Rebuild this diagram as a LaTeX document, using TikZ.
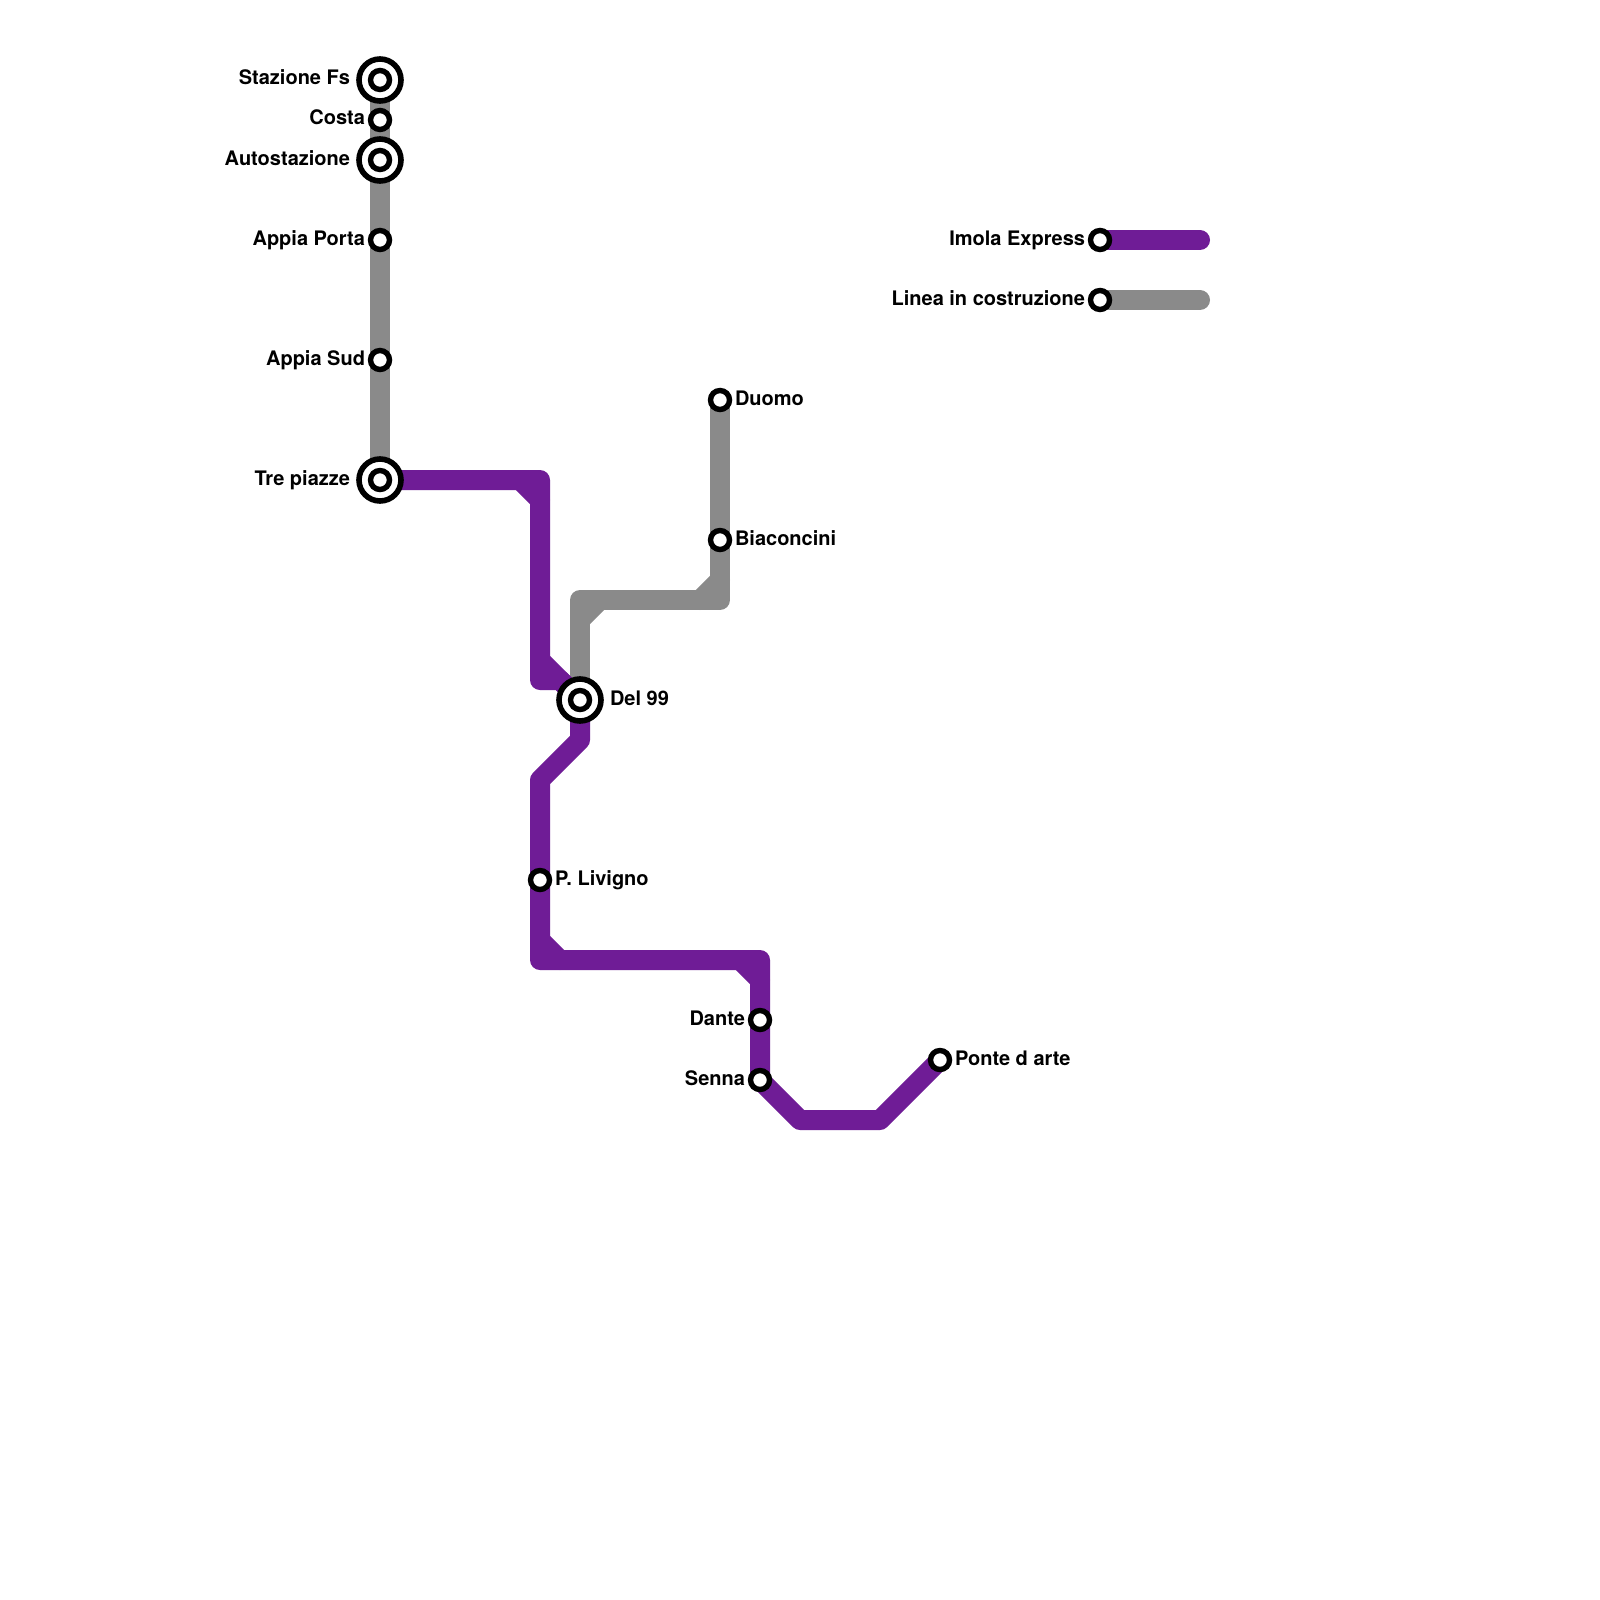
\documentclass[tikz,border=0pt]{standalone}
\usepackage{fontspec}
\setmainfont{TeX Gyre Heros}
\definecolor{linepurple}{HTML}{6F1C96}
\definecolor{linegray}{HTML}{8A8A8A}
\tikzset{
  metro/.style={line width=10pt,line cap=round,line join=round},
  purpleline/.style={metro,draw=linepurple},
  grayline/.style={metro,draw=linegray},
  stop/.style={circle,draw=black,fill=white,line width=2.7pt,minimum size=9.5pt,inner sep=0pt,outer sep=0pt},
  hubouter/.style={circle,draw=black,fill=white,line width=2.8pt,minimum size=21pt,inner sep=0pt,outer sep=0pt},
  hubinner/.style={stop},
  lab/.style={font=\bfseries\fontsize{10pt}{12pt}\selectfont,text=black,inner sep=0pt,outer sep=0pt},
  labl/.style={lab,anchor=base east},
  labr/.style={lab,anchor=base west}
}
\begin{document}
\begin{tikzpicture}[x=0.5pt,y=-0.5pt]
\useasboundingbox (0,0) rectangle (1600,1600);
\fill[white] (0,0) rectangle (1600,1600);
% station positions and bends
\foreach \n/\x/\y in {sfs/380/80,cos/380/120,aut/380/160,apo/380/240,asu/380/360,tre/380/480,
  duo/720/400,bia/720/540,del/580/700,liv/540/880,dan/760/1020,sen/760/1080,pon/940/1060,
  imo/1100/240,cst/1100/300,imoe/1200/240,cste/1200/300,
  pa/540/480,pb/540/680,pc/560/680,pd/580/740,pe/540/780,pf/540/960,pg/760/960,ph/800/1120,pi/880/1120,
  ga/720/600,gb/580/600,
  xa/520/480,xb/540/500,xc/540/660,xd/540/940,xe/560/960,xf/740/960,xg/760/980,
  xh/580/620,xi/600/600,xj/700/600,xk/720/580}
  {\coordinate (\n) at (\x,\y);}
% gray line
\draw[grayline] (sfs) -- (cos) -- (aut) -- (apo) -- (asu) -- (tre);
\draw[grayline] (duo) -- (bia) -- (ga) -- (gb) -- (del);
\draw[grayline] (xh) -- (xi);
\draw[grayline] (xj) -- (xk);
\draw[grayline] (cst) -- (cste);
% purple line
\draw[purpleline] (tre) -- (pa) -- (pb) -- (pc) -- (del) -- (pd) -- (pe) -- (liv) -- (pf) -- (pg) -- (dan) -- (sen) -- (ph) -- (pi) -- (pon);
\draw[purpleline] (xa) -- (xb);
\draw[purpleline] (xc) -- (del);
\draw[purpleline] (xd) -- (xe);
\draw[purpleline] (xf) -- (xg);
\draw[purpleline] (imo) -- (imoe);
% hubs
\foreach \n in {sfs,aut,tre,del}{
  \node[hubouter] (\n o) at (\n) {};
  \node[hubinner] (\n i) at (\n) {};
}
% stops
\foreach \n in {cos,apo,asu,duo,bia,liv,dan,sen,pon,imo,cst}{
  \node[stop] (\n s) at (\n) {};
}
% labels
\node[labl] (lsfs) at (350,85) {Stazione Fs};
\node[labl] (lcos) at (365,125) {Costa};
\node[labl] (laut) at (350,165) {Autostazione};
\node[labl] (lapo) at (365,245) {Appia Porta};
\node[labl] (lasu) at (365,365) {Appia Sud};
\node[labl] (ltre) at (350,485) {Tre piazze};
\node[labr] (lduo) at (735,405) {Duomo};
\node[labr] (lbia) at (735,545) {Biaconcini};
\node[labr] (ldel) at (610,705) {Del 99};
\node[labr] (lliv) at (555,885) {P. Livigno};
\node[labl] (ldan) at (745,1025) {Dante};
\node[labl] (lsen) at (745,1085) {Senna};
\node[labr] (lpon) at (955,1065) {Ponte d arte};
\node[labl] (limo) at (1085,245) {Imola Express};
\node[labl] (lcst) at (1085,305) {Linea in costruzione};
\end{tikzpicture}
\end{document}
